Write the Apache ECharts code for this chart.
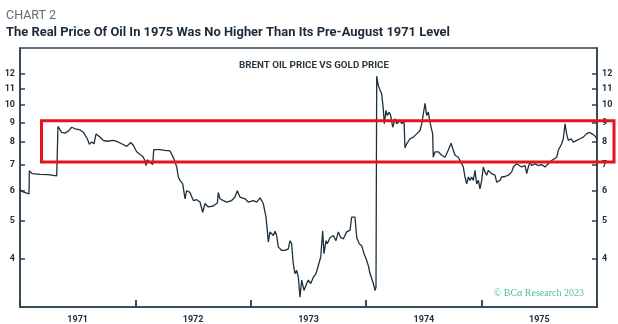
<!DOCTYPE html>
<html><head><meta charset="utf-8">
<script src="https://cdn.jsdelivr.net/npm/echarts@6/dist/echarts.min.js"></script>
<style>html,body{margin:0;padding:0;background:#fff}#c{width:618px;height:324px}</style>
</head><body><div id="c"></div>
<script>
// ---- data ----
const yearLabels = ['1971','1972','1973','1974','1975'];
const yearBounds = [1971,1972,1973,1974,1975,1976];
const yTicks = [4,5,6,7,8,9,10,11,12];
const dates = [
1971.000,1971.026,1971.043,1971.078,1971.081,1971.104,1971.173,1971.243,1971.318,1971.323,
1971.329,1971.341,1971.361,1971.390,1971.419,1971.448,1971.477,1971.520,1971.549,1971.583,
1971.601,1971.621,1971.641,1971.659,1971.687,1971.722,1971.751,1971.808,1971.838,1971.881,
1971.925,1971.959,1971.982,1972.011,1972.040,1972.063,1972.083,1972.092,1972.103,1972.127,
1972.150,1972.159,1972.213,1972.256,1972.300,1972.315,1972.334,1972.358,1972.372,1972.386,
1972.410,1972.430,1972.444,1972.473,1972.502,1972.531,1972.560,1972.583,1972.603,1972.632,
1972.675,1972.710,1972.718,1972.733,1972.762,1972.791,1972.834,1972.863,1972.883,1972.906,
1972.950,1972.978,1973.022,1973.051,1973.080,1973.094,1973.108,1973.132,1973.152,1973.166,
1973.195,1973.210,1973.224,1973.238,1973.268,1973.296,1973.325,1973.340,1973.354,1973.368,
1973.383,1973.398,1973.412,1973.426,1973.441,1973.461,1973.484,1973.498,1973.519,1973.542,
1973.565,1973.585,1973.606,1973.623,1973.634,1973.652,1973.663,1973.686,1973.715,1973.738,
1973.758,1973.779,1973.802,1973.831,1973.860,1973.874,1973.903,1973.918,1973.940,1973.961,
1973.981,1974.004,1974.018,1974.033,1974.048,1974.062,1974.076,1974.085,1974.091,1974.105,
1974.120,1974.134,1974.148,1974.157,1974.172,1974.183,1974.200,1974.212,1974.230,1974.250,
1974.264,1974.293,1974.308,1974.328,1974.336,1974.351,1974.365,1974.380,1974.394,1974.408,
1974.423,1974.438,1974.452,1974.466,1974.481,1974.495,1974.510,1974.524,1974.538,1974.553,
1974.576,1974.581,1974.596,1974.625,1974.654,1974.683,1974.711,1974.735,1974.755,1974.770,
1974.798,1974.813,1974.828,1974.841,1974.856,1974.871,1974.885,1974.899,1974.914,1974.928,
1974.943,1974.957,1974.972,1974.986,1975.001,1975.015,1975.029,1975.044,1975.058,1975.087,
1975.116,1975.131,1975.145,1975.159,1975.174,1975.203,1975.232,1975.261,1975.275,1975.289,
1975.304,1975.318,1975.347,1975.376,1975.391,1975.405,1975.419,1975.434,1975.463,1975.491,
1975.521,1975.549,1975.578,1975.607,1975.651,1975.665,1975.694,1975.708,1975.723,1975.737,
1975.751,1975.775,1975.795,1975.824,1975.853,1975.881,1975.910,1975.933,1975.956,1975.979,
1975.998];
const oilVsGold = [
6.03,5.95,5.88,5.88,6.75,6.63,6.60,6.59,6.54,6.50,
8.78,8.71,8.48,8.44,8.54,8.74,8.66,8.60,8.48,8.16,
7.90,8.01,7.92,8.40,8.27,8.08,8.04,8.08,8.03,7.92,
7.80,7.98,7.85,7.55,7.43,7.35,7.17,6.96,7.20,7.10,
7.00,7.65,7.65,7.62,7.59,7.55,7.24,6.90,6.50,6.37,
6.24,5.71,5.99,5.93,5.65,5.68,5.60,5.27,5.55,5.44,
5.47,5.57,5.93,5.71,5.65,5.60,5.65,5.77,5.99,5.77,
5.71,5.60,5.65,5.60,5.74,5.65,5.55,5.12,4.42,4.69,
4.59,4.71,4.59,4.29,4.20,4.20,4.24,4.45,4.37,3.88,
3.66,3.73,3.58,3.18,3.52,3.31,3.45,3.52,3.45,3.58,
3.66,3.84,4.04,4.72,4.12,4.45,4.37,4.53,4.59,4.45,
4.69,4.53,4.50,4.69,4.74,5.12,5.12,4.53,4.37,4.32,
4.12,3.96,3.84,3.66,3.66,3.45,3.31,3.38,11.84,11.2,
10.91,10.66,9.75,8.92,9.66,9.37,9.56,9.37,8.74,9.19,
8.92,9.10,8.92,9.06,7.73,7.92,8.00,8.16,8.08,8.24,
8.32,8.40,8.32,8.57,8.92,9.46,10.07,9.37,9.56,9.00,
8.40,7.31,7.55,7.55,7.40,7.31,7.62,7.95,7.62,7.40,
7.31,7.31,7.03,6.90,6.50,6.24,6.50,6.37,6.50,6.37,
6.76,6.24,6.37,6.06,6.37,6.90,6.70,6.57,6.76,6.63,
6.57,6.30,6.24,6.37,6.50,6.52,6.57,6.70,6.90,6.83,
7.03,6.96,6.90,6.96,6.63,6.90,7.10,6.96,7.03,6.96,
7.00,6.90,7.03,7.17,7.31,7.62,7.92,8.16,8.92,8.40,
8.08,8.16,8.00,8.08,8.16,8.24,8.40,8.48,8.40,8.32,
8.16];
const chartLabel = 'CHART 2';
const chartTitle = 'The Real Price Of Oil In 1975 Was No Higher Than Its Pre-August 1971 Level';
const panelTitle = 'BRENT OIL PRICE VS GOLD PRICE';
const sourceNote = '\u00A9 BC\u03B1 Research 2023';

// ---- styling ----
const axisColor = '#2e414d';
const labelColor = '#22313c';
const lineColor = '#1b313d';
const yMin = 3, yMax = 14;

function textWidth(txt, font){
  const c = document.createElement('canvas').getContext('2d');
  c.font = font; return c.measureText(txt).width;
}
const titleFont = 'bold 13.5px Roboto';
const titleScale = 444 / textWidth(chartTitle, titleFont);
const panelFont = 'bold 9px Roboto';
const panelScale = 150 / textWidth(panelTitle, panelFont);

function yAx(pos){
  return {
    type:'log', logBase:10, min:yMin, max:yMax, position:pos,
    axisLine:{show:true, onZero:false, lineStyle:{color:axisColor, width:1.5}},
    axisTick:{show:true, inside:true, length:5, customValues:yTicks, lineStyle:{color:axisColor, width:1.5}},
    axisLabel:{show:true, customValues:yTicks, margin:5, fontSize:9, fontWeight:'bold',
      color:labelColor, fontFamily:'Roboto'},
    splitLine:{show:false}, minorTick:{show:false}, minorSplitLine:{show:false}
  };
}

// year-boundary tick marks along the bottom axis (short segments in data space)
const tickTop = yMin * Math.exp(7 / 168.4);
const yearTickLines = yearBounds.slice(1, -1).map(y => [{coord:[y, yMin]}, {coord:[y, tickTop]}]);

const chart = echarts.init(document.getElementById('c'));
chart.setOption({
  animation:false,
  grid:{left:20, right:21, top:48, bottom:17, show:true, borderColor:axisColor, borderWidth:1.5},
  xAxis:[
    {type:'value', min:1971, max:1976, position:'bottom',
     axisLine:{show:true, onZero:false, lineStyle:{color:axisColor, width:1.5}},
     axisTick:{show:true, inside:true, length:7, customValues:yearBounds, lineStyle:{color:axisColor, width:1.5}},
     axisLabel:{show:false}, splitLine:{show:false}},
    {type:'category', data:yearLabels, boundaryGap:true, position:'bottom',
     axisLine:{show:false, onZero:false}, axisTick:{show:false},
     axisLabel:{show:true, interval:0, margin:8, fontSize:9, fontWeight:'bold', color:labelColor, fontFamily:'Roboto'},
     splitLine:{show:false}}
  ],
  yAxis:[yAx('left'), yAx('right')],
  series:[{
    type:'line', xAxisIndex:0, yAxisIndex:0, showSymbol:false, symbol:'none',
    lineStyle:{color:lineColor, width:1.3}, itemStyle:{color:lineColor},
    data: dates.map((d,i)=>[d, oilVsGold[i]]),
    markLine:{silent:true, symbol:['none','none'], animation:false, label:{show:false},
      lineStyle:{color:axisColor, width:1.5, type:'solid'}, emphasis:{disabled:true},
      data: yearTickLines}
  }],
  graphic:[
    {type:'text', x:6, y:16, style:{text:chartLabel, font:'12.5px Roboto', fill:'#5f6b73', verticalAlign:'middle'}},
    {type:'text', x:6, y:33, scaleX:titleScale, style:{text:chartTitle, font:titleFont, fill:'#1b2b39', verticalAlign:'middle'}},
    {type:'text', x:314, y:66, scaleX:panelScale, style:{text:panelTitle, font:panelFont, fill:'#2a3944', align:'center', verticalAlign:'middle'}},
    {type:'text', x:584, y:293, style:{text:sourceNote, font:'10px "Liberation Serif"', fill:'#4dbd9f', align:'right', verticalAlign:'middle'}},
    {type:'rect', shape:{x:41.5, y:120.8, width:572.5, height:41.2}, style:{fill:null, stroke:'#e3141b', lineWidth:3}, z:100}
  ]
});
</script>
</body></html>
